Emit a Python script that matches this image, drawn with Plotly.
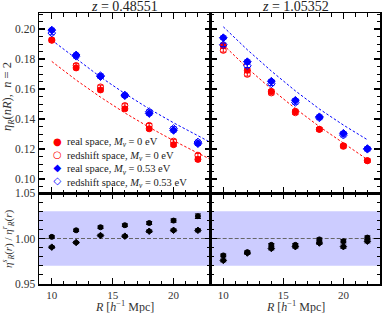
import plotly.graph_objects as go

# ---------------- data ----------------
R = [10, 12, 14, 16, 18, 20, 22]

# z = 0.48551 (left)
red_real_L = [0.1925, 0.1741, 0.1594, 0.1468, 0.1335, 0.1229, 0.1131]
red_rsd_L = [0.1928, 0.1757, 0.1614, 0.1490, 0.1358, 0.1253, 0.1159]
blue_real_L = [0.1993, 0.1827, 0.1683, 0.1556, 0.1437, 0.1325, 0.1236]
blue_rsd_L = [0.1974, 0.1819, 0.1689, 0.1560, 0.1449, 0.1337, 0.1247]

# z = 1.05352 (right)
red_real_R = [0.1890, 0.1725, 0.1585, 0.1452, 0.1332, 0.1222, 0.1122]
red_rsd_R = [0.1858, 0.1698, 0.1574, 0.1442, 0.1331, 0.1218, 0.1123]
blue_real_R = [0.1942, 0.1782, 0.1652, 0.1525, 0.1415, 0.1305, 0.1203]
blue_rsd_R = [0.1895, 0.1755, 0.1635, 0.1511, 0.1408, 0.1293, 0.1199]

err_top = [0.0012, 0.0012, 0.0012, 0.0012, 0.0012, 0.0012, 0.0012]

# theory curves (dashed)
R_th_L = [10, 12, 14, 16, 18, 20, 22, 24]
th_red_L = [0.1784, 0.1660, 0.1546, 0.1441, 0.1345, 0.1256, 0.1173, 0.1093]
th_blue_L = [0.1926, 0.1800, 0.1680, 0.1570, 0.1468, 0.1375, 0.1287, 0.1203]
R_th_R = [10, 12, 14, 16, 18, 20, 22]
th_red_R = [0.1895, 0.1740, 0.1600, 0.1470, 0.1350, 0.1238, 0.1130]
th_blue_R = [0.2015, 0.1862, 0.1720, 0.1588, 0.1467, 0.1360, 0.1262]

# ratios redshift / real
ratio_m0_L = [1.0018, 1.0090, 1.0124, 1.0146, 1.0170, 1.0197, 1.0245]
ratio_m053_L = [0.9905, 0.9956, 1.0033, 1.0026, 1.0080, 1.0090, 1.0090]
ratio_m0_R = [0.9814, 0.9850, 0.9930, 0.9930, 0.9990, 0.9970, 1.0010]
ratio_m053_R = [0.9759, 0.9840, 0.9890, 0.9910, 0.9950, 0.9910, 0.9970]
err_ratio_m0_L = [0.0012, 0.0013, 0.0014, 0.0015, 0.0016, 0.0018, 0.0025]
err_ratio_m053_L = [0.0012, 0.0012, 0.0013, 0.0013, 0.0014, 0.0015, 0.0016]
err_ratio_R = [0.0015, 0.0015, 0.0015, 0.0015, 0.0015, 0.0018, 0.0018]

band_lo, band_hi, ref_line = 0.97, 1.03, 1.0

titles = ["<i>z</i> = 0.48551", "<i>z</i> = 1.05352"]
legend_labels = [
    "real space, <i>M<sub>ν</sub></i> = 0 eV",
    "redshift space, <i>M<sub>ν</sub></i> = 0 eV",
    "real space, <i>M<sub>ν</sub></i> = 0.53 eV",
    "redshift space, <i>M<sub>ν</sub></i> = 0.53 eV",
]

# ---------------- layout geometry ----------------
W, H = 382, 313
def px(x):
    return x / W
def py(y):
    return 1 - y / H

XL = [px(39), px(210.7)]
XR = [px(210.7), px(380)]
YT = [py(193), py(13)]
YB = [py(284), py(193)]

RED = "#ff0000"
BLUE = "#0000ff"
FONT = "Liberation Serif"

fig = go.Figure()

def pts(x, y, err, color, symbol, xa, ya, size=6):
    fig.add_trace(go.Scatter(
        x=x, y=y, mode="markers", xaxis=xa, yaxis=ya, showlegend=False,
        marker=dict(color=color, symbol=symbol, size=size,
                    line=dict(color=color, width=1)),
        error_y=dict(type="data", array=err, color=color, thickness=1, width=3),
    ))

def theory(x, y, color, xa, ya):
    fig.add_trace(go.Scatter(
        x=x, y=y, mode="lines", xaxis=xa, yaxis=ya, showlegend=False,
        line=dict(color=color, width=1, dash="2.5px,2px"),
    ))

# top-left
theory(R_th_L, th_red_L, RED, "x", "y")
theory(R_th_L, th_blue_L, BLUE, "x", "y")
pts(R, red_real_L, err_top, RED, "circle", "x", "y")
pts(R, red_rsd_L, err_top, RED, "circle-open", "x", "y")
pts(R, blue_real_L, err_top, BLUE, "diamond", "x", "y")
pts(R, blue_rsd_L, err_top, BLUE, "diamond-open", "x", "y")
# top-right
theory(R_th_R, th_red_R, RED, "x2", "y2")
theory(R_th_R, th_blue_R, BLUE, "x2", "y2")
pts(R, red_real_R, err_top, RED, "circle", "x2", "y2")
pts(R, red_rsd_R, err_top, RED, "circle-open", "x2", "y2")
pts(R, blue_real_R, err_top, BLUE, "diamond", "x2", "y2")
pts(R, blue_rsd_R, err_top, BLUE, "diamond-open", "x2", "y2")
# bottom
pts(R, ratio_m0_L, err_ratio_m0_L, "black", "circle", "x3", "y3", size=5)
pts(R, ratio_m053_L, err_ratio_m053_L, "black", "diamond", "x3", "y3", size=5)
pts(R, ratio_m0_R, err_ratio_R, "black", "circle", "x4", "y4", size=5)
pts(R, ratio_m053_R, err_ratio_R, "black", "diamond", "x4", "y4", size=5)

tickfont = dict(family=FONT, size=11, color="#333")

def xax(domain, anchor, labels):
    return dict(domain=domain, anchor=anchor, range=[8.95, 23.05],
                tick0=0, dtick=5, ticks="inside", ticklen=6, tickwidth=1.2,
                tickcolor="black", showline=True, linecolor="black", linewidth=1.5,
                mirror="ticks", showgrid=False, zeroline=False, automargin=False,
                showticklabels=labels, tickfont=tickfont,
                minor=dict(tick0=0, dtick=1, ticks="inside", ticklen=3.5,
                           tickwidth=1, tickcolor="black"))

def yax(domain, anchor, rng, dtick, mdtick, labels):
    return dict(domain=domain, anchor=anchor, range=rng, tick0=0, dtick=dtick,
                tickformat=".2f", ticks="inside", ticklen=6, tickwidth=1.2,
                tickcolor="black", showline=True, linecolor="black", linewidth=1.5,
                mirror="ticks", showgrid=False, zeroline=False, automargin=False,
                showticklabels=labels, tickfont=dict(family=FONT, size=11.5, color="#333"),
                minor=dict(tick0=0, dtick=mdtick, ticks="inside", ticklen=3.5,
                           tickwidth=1, tickcolor="black"))

top_rng = [0.0907, 0.2107]
bot_rng = [0.95, 1.05]

shapes = []
for xr, yr in [("x3", "y3"), ("x4", "y4")]:
    shapes.append(dict(type="rect", xref=f"{xr} domain", yref=yr, x0=0, x1=1,
                       y0=band_lo, y1=band_hi, fillcolor="rgba(0,0,255,0.2)",
                       line=dict(width=0), layer="below"))
    shapes.append(dict(type="line", xref=f"{xr} domain", yref=yr, x0=0, x1=1,
                       y0=ref_line, y1=ref_line,
                       line=dict(color="#666", width=1, dash="4px,2px"), layer="below"))

annotations = []
for i, (dom, t) in enumerate(zip([XL, XR], titles)):
    annotations.append(dict(text=t, xref="paper", yref="paper", x=(dom[0] + dom[1]) / 2,
                            y=py(6), showarrow=False, xanchor="center", yanchor="middle",
                            font=dict(family=FONT, size=14, color="#222")))
    annotations.append(dict(text="<i>R</i> [<i>h</i><sup>−1</sup> Mpc]", xref="paper", yref="paper",
                            x=(dom[0] + dom[1]) / 2, y=py(306), showarrow=False,
                            xanchor="center", yanchor="middle",
                            font=dict(family=FONT, size=12, color="#333")))
annotations.append(dict(text="<i>η<sub>R</sub></i>(<i>nR</i>),  <i>n</i> = 2", xref="paper", yref="paper",
                        x=px(8), y=py(97), textangle=-90, showarrow=False,
                        xanchor="center", yanchor="middle",
                        font=dict(family=FONT, size=12.5, color="#333")))
annotations.append(dict(text="<i>η<sup>s</sup><sub>R</sub></i>(<i>r</i>) / <i>η<sup>r</sup><sub>R</sub></i>(<i>r</i>)",
                        xref="paper", yref="paper",
                        x=px(8), y=py(239), textangle=-90, showarrow=False,
                        xanchor="center", yanchor="middle",
                        font=dict(family=FONT, size=11, color="#333")))

# legend (glyph column + label column)
glyphs = [f"<span style='color:{RED}'>●</span>", f"<span style='color:{RED}'>○</span>",
          f"<span style='color:{BLUE}'>◆</span>", f"<span style='color:{BLUE}'>◇</span>"]
annotations.append(dict(text="<br>".join(glyphs), xref="paper", yref="paper",
                        x=px(57), y=py(134), xanchor="center", yanchor="top",
                        align="center", showarrow=False,
                        font=dict(family="DejaVu Sans", size=10)))
annotations.append(dict(text="<br>".join(legend_labels), xref="paper", yref="paper",
                        x=px(65), y=py(134), xanchor="left", yanchor="top",
                        align="left", showarrow=False,
                        font=dict(family=FONT, size=10.5, color="#222")))

fig.update_layout(
    width=W, height=H, margin=dict(l=0, r=0, t=0, b=0, autoexpand=False),
    paper_bgcolor="white", plot_bgcolor="white", showlegend=False,
    font=dict(family=FONT),
    xaxis=xax(XL, "y", False), yaxis=yax(YT, "x", top_rng, 0.02, 0.005, True),
    xaxis2=xax(XR, "y2", False), yaxis2=yax(YT, "x2", top_rng, 0.02, 0.005, False),
    xaxis3=xax(XL, "y3", True), yaxis3=yax(YB, "x3", bot_rng, 0.05, 0.01, True),
    xaxis4=xax(XR, "y4", True), yaxis4=yax(YB, "x4", bot_rng, 0.05, 0.01, False),
    shapes=shapes, annotations=annotations,
)

fig.write_html("out.html",
               config={"displayModeBar": False, "staticPlot": True},
               post_script="document.body.style.margin='0';document.body.style.overflow='hidden';")
